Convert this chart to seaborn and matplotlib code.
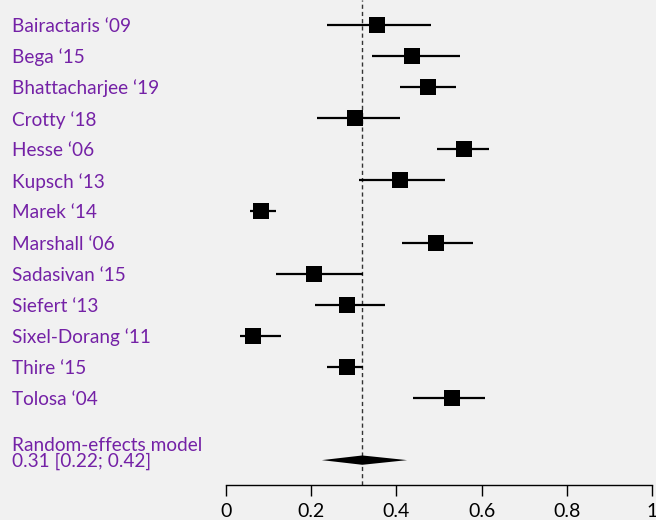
import numpy as np
import pandas as pd
import matplotlib
matplotlib.use('Agg')
import matplotlib.pyplot as plt
import seaborn as sns

studies = ['Bairactaris \u201809', 'Bega \u201815', 'Bhattacharjee \u201819', 'Crotty \u201818',
           'Hesse \u201806', 'Kupsch \u201813', 'Marek \u201814', 'Marshall \u201806',
           'Sadasivan \u201815', 'Siefert \u201813', 'Sixel-Dorang \u201811', 'Thire \u201815',
           'Tolosa \u201804']
est = [0.355, 0.437, 0.475, 0.302, 0.559, 0.409, 0.083, 0.494, 0.207, 0.283, 0.064, 0.283, 0.531]
lower = [0.237, 0.343, 0.409, 0.214, 0.495, 0.312, 0.057, 0.412, 0.118, 0.208, 0.032, 0.238, 0.439]
upper = [0.482, 0.550, 0.541, 0.409, 0.617, 0.513, 0.118, 0.579, 0.321, 0.373, 0.128, 0.321, 0.607]
pooled, pooled_lo, pooled_hi = 0.32, 0.225, 0.425
model_label = 'Random-effects model'
model_text = '0.31 [0.22; 0.42]'
xticks = [0, 0.2, 0.4, 0.6, 0.8, 1]
xticklabels = ['0', '0.2', '0.4', '0.6', '0.8', '1']

bg = '#f1f1f1'
purple = '#7421a6'

sns.set_theme(style='white')
plt.rcParams['font.family'] = ['Lato', 'DejaVu Sans']

df = pd.DataFrame({'study': studies, 'est': est, 'lower': lower, 'upper': upper,
                   'row': np.arange(len(studies))})
model_row = len(studies) + 1

W, H = 656, 520
fig = plt.figure(figsize=(W / 100, H / 100), dpi=100, facecolor=bg)
ax = fig.add_axes([226 / W, 35 / H, 426 / W, 485 / H])
ax.set_facecolor(bg)

ax.hlines(df['row'], df['lower'], df['upper'], color='black', lw=1.6, zorder=2)
sns.scatterplot(data=df, x='est', y='row', marker='s', s=118, color='black',
                edgecolor='black', linewidth=0, ax=ax, zorder=3, legend=False)

dh = 0.15
ax.fill([pooled_lo, pooled, pooled_hi, pooled],
        [model_row, model_row - dh, model_row, model_row + dh],
        color='black', lw=0, zorder=3)
ax.axvline(pooled, color='#333333', lw=1, ls=(0, (3, 2.2)), zorder=1)

ax.set_xlim(0, 1)
ax.set_ylim(14.8, -0.8)
ax.set_yticks([])
ax.set_xticks(xticks)
ax.set_xticklabels(xticklabels, fontsize=14)
ax.set_xlabel('')
ax.set_ylabel('')
for s in ['top', 'right', 'left']:
    ax.spines[s].set_visible(False)
ax.spines['bottom'].set_color('black')
ax.spines['bottom'].set_linewidth(1)
ax.tick_params(axis='x', bottom=True, length=8, width=1, color='black',
               labelcolor='black', pad=5)

trans = matplotlib.transforms.blended_transform_factory(fig.transFigure, ax.transData)
for r, name in zip(df['row'], df['study']):
    ax.text(12 / W, r, name, transform=trans, color=purple, fontsize=13.7,
            ha='left', va='center_baseline')
ax.text(12 / W, model_row - 0.52, model_label, transform=trans, color=purple,
        fontsize=13.7, ha='left', va='center_baseline')
ax.text(12 / W, model_row, model_text, transform=trans, color=purple,
        fontsize=13.7, ha='left', va='center_baseline')

fig.savefig('out.png', dpi=100, facecolor=bg)
